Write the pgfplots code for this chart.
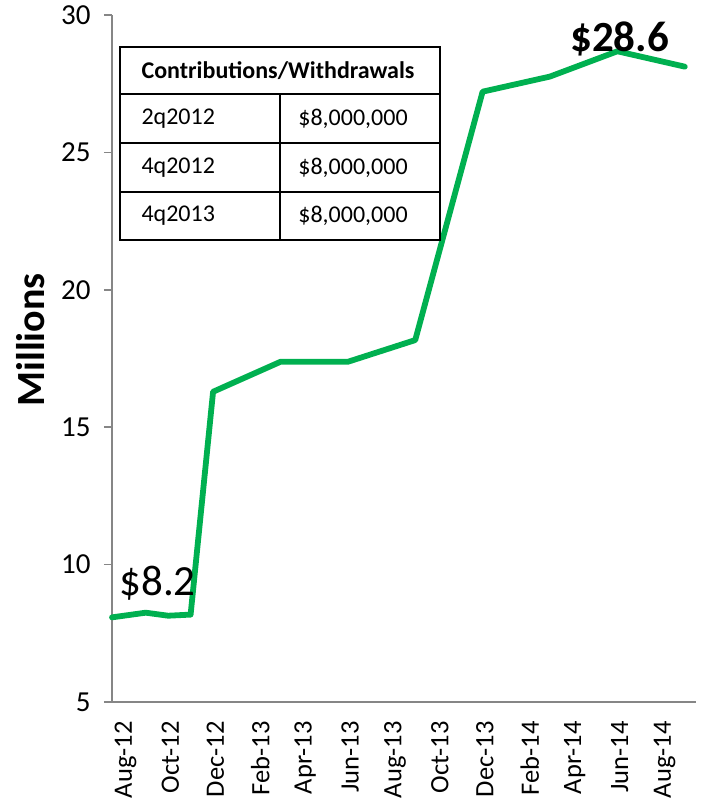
\documentclass[border=0pt]{standalone}
\usepackage{pgfplots}
\pgfplotsset{compat=1.18}
\usepackage{fontspec}
\setmainfont{Carlito}
\definecolor{lgreen}{HTML}{00B050}
\definecolor{axgray}{HTML}{868686}
\begin{document}
\begin{tikzpicture}
\begin{axis}[
  at={(0,0)}, anchor=south west,
  scale only axis, width=584pt, height=687pt,
  xmin=0, xmax=26, ymin=5, ymax=30,
  axis x line=bottom, axis y line=left,
  axis line style={axgray, line width=1.6pt, -},
  every tick/.style={axgray, line width=1.6pt},
  tick align=outside,
  major tick length=8pt,
  ytick={5,10,15,20,25,30},
  yticklabel style={font=\fontsize{29}{34}\selectfont, xshift=-10pt},
  /pgf/number format/assume math mode=true,
  xtick={0.6,2.6,...,24.6},
  xticklabels={Aug-12,Oct-12,Dec-12,Feb-13,Apr-13,Jun-13,Aug-13,Oct-13,Dec-13,Feb-14,Apr-14,Jun-14,Aug-14},
  xtick style={draw=none},
  xticklabel style={font=\fontsize{26.5}{30}\selectfont, rotate=90, anchor=east},
  xticklabel shift=8pt,
  extra x ticks={0,2,...,26},
  extra x tick labels={},
  extra x tick style={major tick length=8pt, tick style={axgray, line width=1.6pt}},
  ylabel={\textbf{Millions}},
  ylabel style={font=\fontsize{40}{46}\selectfont, at={(axis description cs:-0.139,0.527)}, anchor=center},
  clip=false,
]
\addplot[lgreen, line width=5.8pt, line join=round, line cap=round] coordinates {
  (0,8.08) (1.5,8.25) (2.5,8.14) (3.5,8.18) (4.5,16.29) (7.5,17.38)
  (10.5,17.38) (13.5,18.17) (16.5,27.21) (19.5,27.76) (22.5,28.68) (25.5,28.12)
};
\node[font=\fontsize{43}{48}\selectfont, anchor=center] at (axis cs:2.03,9.33) {\$8.2};
\node[font=\fontsize{43}{48}\selectfont\bfseries, anchor=center] at (axis cs:22.6,29.12) {\$28.6};
\end{axis}
% table (annotation)
\fill[white] (8pt,462pt) rectangle (328pt,655pt);
\draw[line width=2pt] (8pt,462pt) rectangle (328pt,655pt);
\draw[line width=2pt] (8pt,608pt) -- (328pt,608pt);
\draw[line width=2pt] (8pt,559pt) -- (328pt,559pt);
\draw[line width=2pt] (8pt,510pt) -- (328pt,510pt);
\draw[line width=2pt] (168pt,462pt) -- (168pt,608pt);
\node[font=\fontsize{24}{28}\selectfont\bfseries, anchor=center] at (166pt,631.5pt) {Contributions/Withdrawals};
\node[font=\fontsize{24}{28}\selectfont, anchor=west] at (26pt,583.5pt) {2q2012};
\node[font=\fontsize{24}{28}\selectfont, anchor=west] at (26pt,534.5pt) {4q2012};
\node[font=\fontsize{24}{28}\selectfont, anchor=west] at (26pt,486pt) {4q2013};
\node[font=\fontsize{24}{28}\selectfont, anchor=center] at (241pt,583.5pt) {\$8,000,000};
\node[font=\fontsize{24}{28}\selectfont, anchor=center] at (241pt,534.5pt) {\$8,000,000};
\node[font=\fontsize{24}{28}\selectfont, anchor=center] at (241pt,486pt) {\$8,000,000};
\pgfresetboundingbox
\path[use as bounding box] (-112pt,-99pt) rectangle (591pt,702pt);
\end{tikzpicture}
\end{document}
